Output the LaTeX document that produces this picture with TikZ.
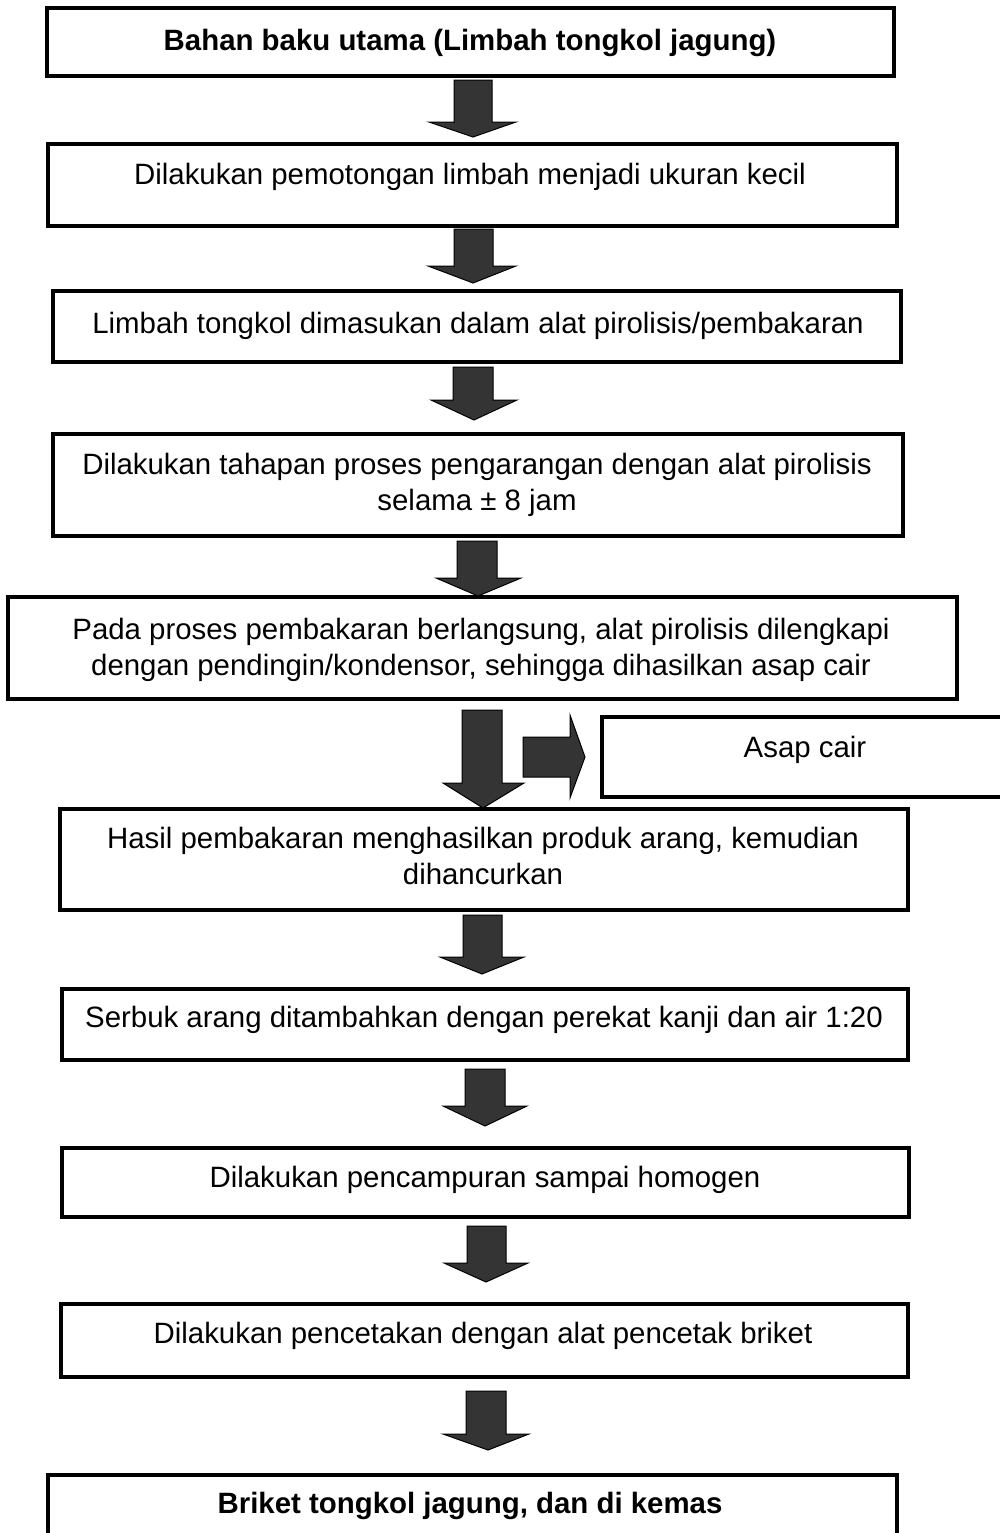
\documentclass[tikz,border=0pt]{standalone}
\usepackage{fontspec}
\setmainfont{Liberation Sans}
\definecolor{arrowgray}{RGB}{52,52,52}
\newcommand\pxu{0.5pt}
\begin{document}
\begin{tikzpicture}[x=0.5pt,y=-0.5pt,
  box/.style={draw=black, line width=1.6pt, fill=white, inner sep=0pt},
  thickbox/.style={box, line width=2.1pt},
  txt/.style={anchor=north, inner sep=0pt, align=center, font=\fontsize{14.7}{17.75}\selectfont},
  btxt/.style={txt, font=\fontsize{14.7}{17.75}\selectfont\bfseries},
  barrow/.style={fill=arrowgray, draw=black, line width=0.5pt, line join=miter}]
\useasboundingbox (0,0) rectangle (1000,1533);
\clip (0,0) rectangle (1000,1533);
% boxes
\node[box, minimum width=847*\pxu, minimum height=68*\pxu] (b1) at (470.5,42) {};
\node[thickbox, minimum width=849*\pxu, minimum height=82*\pxu] (b2) at (472.5,185) {};
\node[box, minimum width=848*\pxu, minimum height=71*\pxu] (b3) at (477,326.5) {};
\node[box, minimum width=850*\pxu, minimum height=102*\pxu] (b4) at (478,485) {};
\node[box, minimum width=949*\pxu, minimum height=102*\pxu] (b5) at (482.5,648) {};
\node[box, minimum width=410*\pxu, minimum height=80*\pxu] (ba) at (807,757) {};
\node[box, minimum width=848*\pxu, minimum height=101*\pxu] (b7) at (484,859.5) {};
\node[box, minimum width=846*\pxu, minimum height=71*\pxu] (b8) at (485,1024.5) {};
\node[box, minimum width=847*\pxu, minimum height=69*\pxu] (b9) at (485.5,1182.5) {};
\node[box, minimum width=847*\pxu, minimum height=73*\pxu] (b10) at (484.5,1340.5) {};
\node[thickbox, minimum width=849*\pxu, minimum height=70*\pxu] (b11) at (472.5,1510) {};
% texts
\node[btxt] (t1) at (470,28.5) {Bahan baku utama (Limbah tongkol jagung)};
\node[txt] (t2) at (470,163) {Dilakukan pemotongan limbah menjadi ukuran kecil};
\node[txt] (t3) at (478,312) {Limbah tongkol dimasukan dalam alat pirolisis/pembakaran};
\node[txt] (t4) at (477,453) {Dilakukan tahapan proses pengarangan dengan alat pirolisis\\selama ± 8 jam};
\node[txt] (t5) at (481,618) {Pada proses pembakaran berlangsung, alat pirolisis dilengkapi\\dengan pendingin/kondensor, sehingga dihasilkan asap cair};
\node[txt] (ta) at (805,736) {Asap cair};
\node[txt] (t7) at (483,827) {Hasil pembakaran menghasilkan produk arang, kemudian\\dihancurkan};
\node[txt] (t8) at (484,1006) {Serbuk arang ditambahkan dengan perekat kanji dan air 1:20};
\node[txt] (t9) at (485,1166) {Dilakukan pencampuran sampai homogen};
\node[txt] (t10) at (483,1322) {Dilakukan pencetakan dengan alat pencetak briket};
\node[btxt] (t11) at (470,1492) {Briket tongkol jagung, dan di kemas};
% block arrows
\draw[barrow] (454,80) -- (492,80) -- (492,122) -- (516,122) -- (473,137) -- (429,122) -- (454,122) -- cycle;
\draw[barrow] (454,229) -- (493,229) -- (493,266) -- (516,266) -- (473,283) -- (428,266) -- (454,266) -- cycle;
\draw[barrow] (453,367) -- (493,367) -- (493,400) -- (517,400) -- (474,420) -- (431,400) -- (453,400) -- cycle;
\draw[barrow] (457,541) -- (497,541) -- (497,578) -- (521,578) -- (478,596) -- (436,578) -- (457,578) -- cycle;
\draw[barrow] (462,710) -- (502,710) -- (502,783) -- (524,783) -- (483,808) -- (443,783) -- (462,783) -- cycle;
\draw[barrow] (523,737) -- (570,737) -- (570,715) -- (585,757) -- (570,798) -- (570,777) -- (523,777) -- cycle;
\draw[barrow] (463,915) -- (502,915) -- (502,957) -- (524,957) -- (482,974) -- (440,957) -- (463,957) -- cycle;
\draw[barrow] (465,1069) -- (505,1069) -- (505,1106) -- (527,1106) -- (485,1126) -- (443,1106) -- (465,1106) -- cycle;
\draw[barrow] (467,1226) -- (506,1226) -- (506,1263) -- (528,1263) -- (486,1282) -- (444,1263) -- (467,1263) -- cycle;
\draw[barrow] (466,1391) -- (506,1391) -- (506,1434) -- (529,1434) -- (488,1450) -- (443,1434) -- (466,1434) -- cycle;
\end{tikzpicture}
\end{document}
